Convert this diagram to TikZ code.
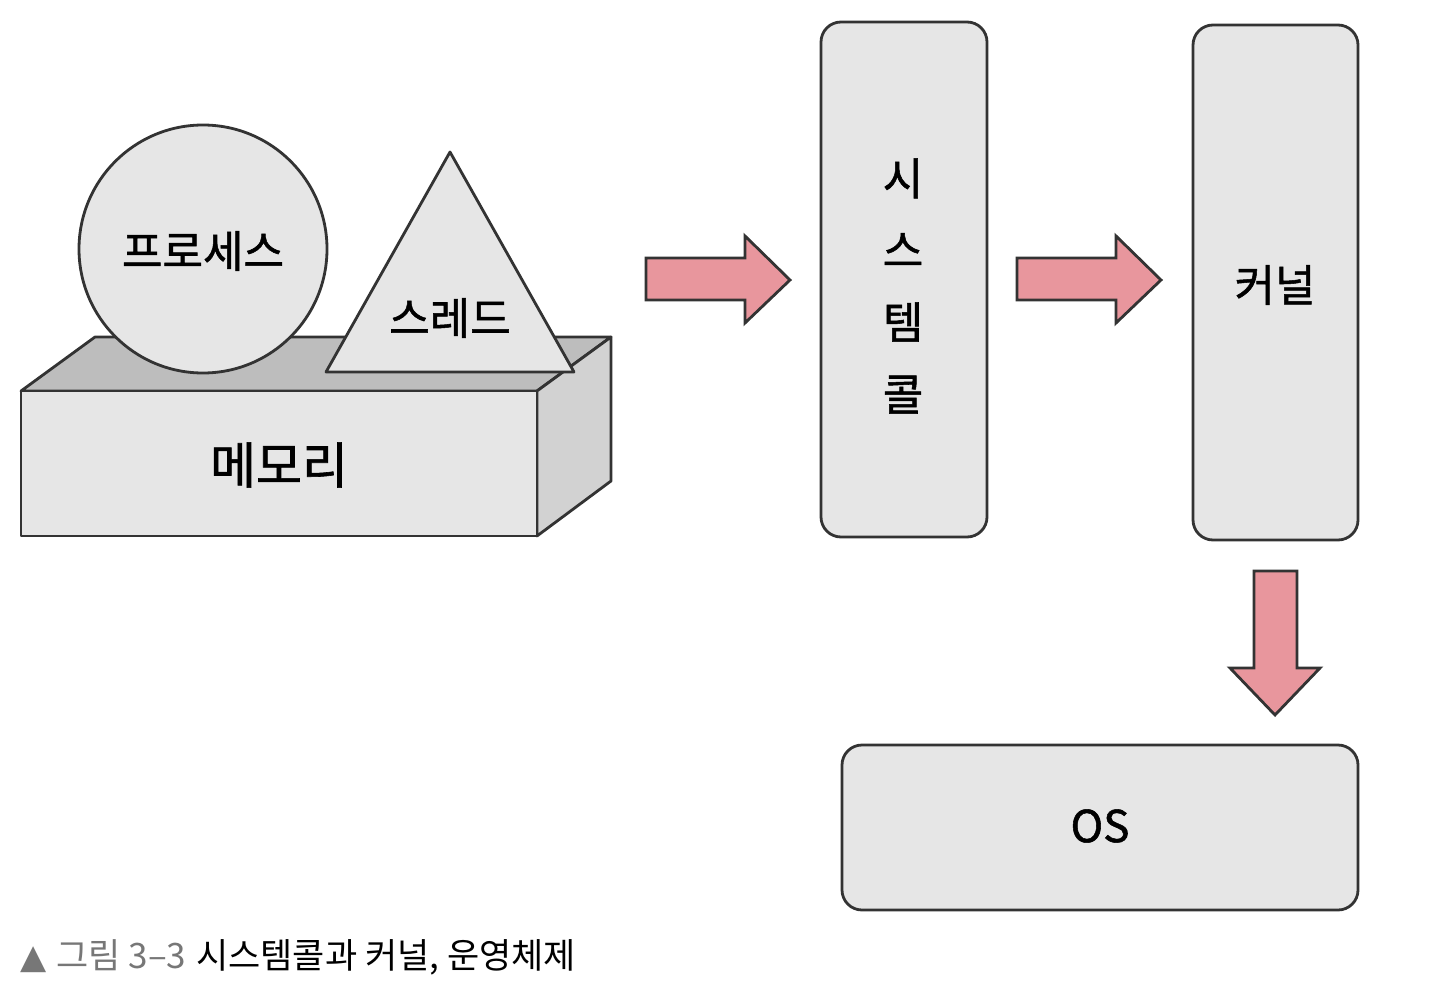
\documentclass[tikz,border=0pt]{standalone}
\usepackage{fontspec}
\newfontfamily\kr{Noto Sans CJK KR}
\newfontfamily\krb[FakeBold=1.2]{Noto Sans CJK KR}
\newfontfamily\tri{DejaVu Sans}
\setmainfont{Noto Sans CJK KR}
\definecolor{shapefill}{HTML}{E6E6E6}
\definecolor{topfill}{HTML}{BDBDBD}
\definecolor{sidefill}{HTML}{D2D2D2}
\definecolor{arrowfill}{HTML}{E8969D}
\definecolor{edge}{HTML}{333333}
\definecolor{capgray}{HTML}{777777}
\begin{document}
\begin{tikzpicture}[x=0.5pt,y=-0.5pt,
  shp/.style={draw=edge,line width=1.4pt,fill=shapefill,line join=round},
  rbox/.style={shp,rounded corners=10pt},
  barrow/.style={draw=edge,line width=1.4pt,fill=arrowfill,line join=miter},
  lbl/.style={font=\krb\fontsize{22}{24}\selectfont,text=black,inner sep=0pt}]
\useasboundingbox (0,0) rectangle (1444,1000);
% memory box
\draw[shp,fill=topfill] (21,391) -- (95,337) -- (611,337) -- (537,391) -- cycle;
\draw[shp,fill=sidefill] (537,391) -- (611,337) -- (611,481) -- (537,536) -- cycle;
\draw[shp] (21,391) rectangle (537,536);
\node[lbl,font=\krb\fontsize{25}{27}\selectfont] (mem) at (279,465) {메모리};
% process circle
\draw[shp] (203,249) circle[radius=62pt];
\node[lbl] (proc) at (203,251) {프로세스};
% thread triangle
\draw[shp] (450,152) -- (574,372) -- (326,372) -- cycle;
\node[lbl] (thr) at (450,318) {스레드};
% syscall box
\draw[rbox] (821,22) rectangle (987,537);
\node[lbl,align=center] (sys) at (903,286) {시\\[12pt]스\\[12pt]템\\[12pt]콜};
% kernel box
\draw[rbox] (1193,25) rectangle (1358,540);
\node[lbl] (ker) at (1275,285) {커널};
% OS box
\draw[rbox] (842,745) rectangle (1358,910);
\node[lbl,font=\krb\fontsize{22}{24}\selectfont] (os) at (1100,826) {OS};
% arrows
\draw[barrow] (646,258) -- (745,258) -- (745,236) -- (790,280) -- (745,323) -- (745,300) -- (646,300) -- cycle;
\draw[barrow] (1017,258) -- (1116,258) -- (1116,236) -- (1161,280) -- (1116,323) -- (1116,300) -- (1017,300) -- cycle;
\draw[barrow] (1254,571) -- (1297,571) -- (1297,668) -- (1320,668) -- (1275,715) -- (1230,668) -- (1254,668) -- cycle;
% caption
\node[anchor=west,inner sep=0pt,font=\kr\fontsize{17.5}{19}\selectfont] (cap) at (20,957)
  {\textcolor{capgray}{{\tri\fontsize{17}{19}\selectfont ▲}\hspace{5pt}그림 3–3}\hspace{5pt}시스템콜과 커널, 운영체제};
\end{tikzpicture}
\end{document}
